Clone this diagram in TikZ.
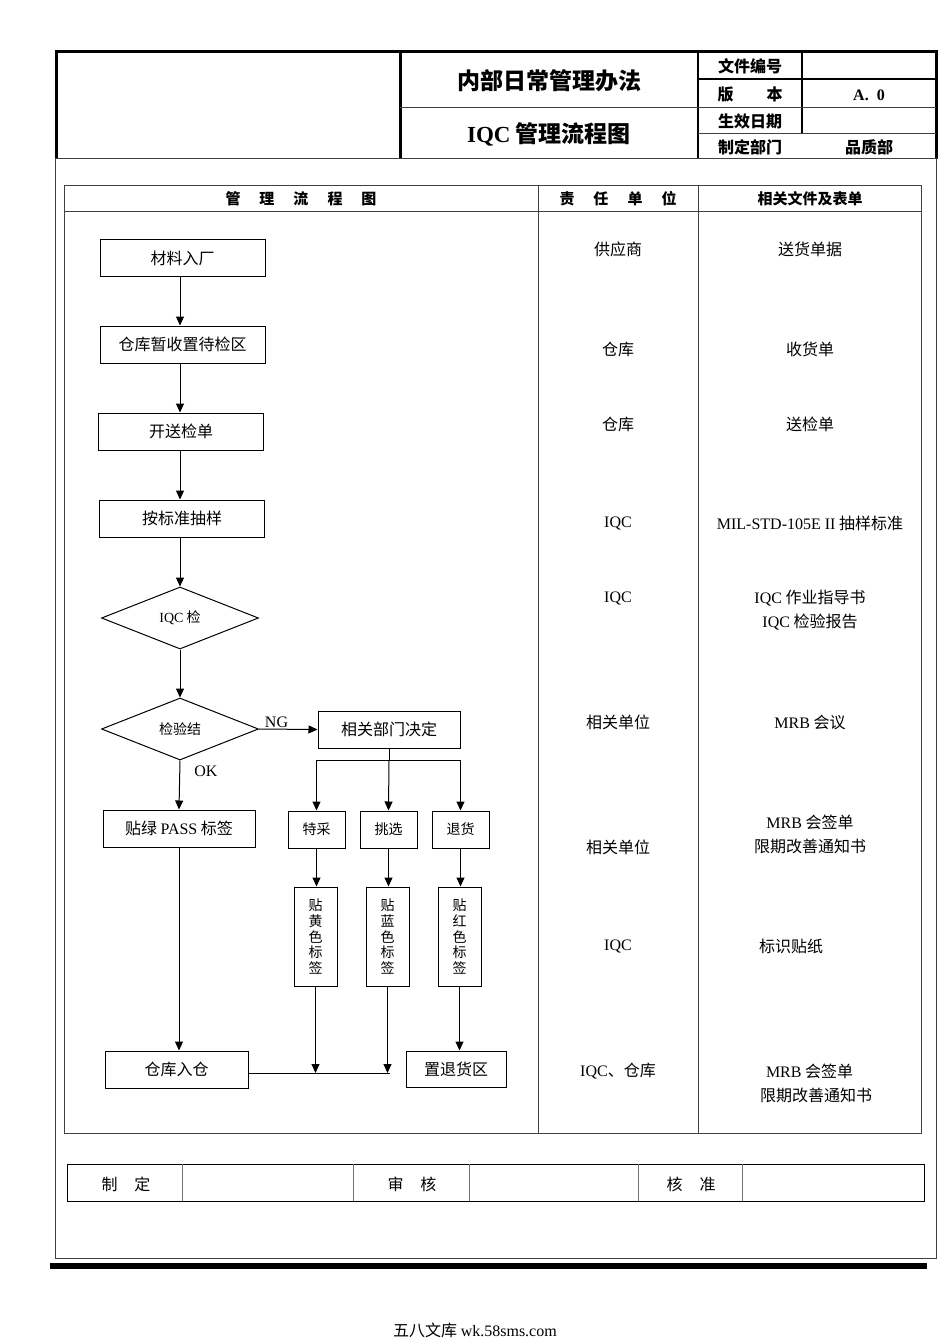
\documentclass[tikz,border=0pt]{standalone}
\usepackage{fontspec}
\setmainfont{Liberation Serif}
\newfontfamily\cjk{Noto Sans CJK SC}
\usetikzlibrary{arrows.meta, shapes.geometric}

\begin{document}
\begin{tikzpicture}[
  x = 1pt, y = -1pt,
  > = {Triangle[length=9pt, width=8pt]},
  zh/.style = {font=\cjk\fontsize{16}{24}\selectfont},
  zhsmall/.style = {font=\cjk\fontsize{14}{15.8}\selectfont},
  zhbold/.style = {font=\cjk\bfseries\fontsize{16}{20}\selectfont},
  box/.style = {draw, line width=1pt, minimum width=165pt, minimum height=37pt, inner sep=0pt, zh},
  smallbox/.style = {draw, line width=1pt, minimum width=57pt, minimum height=37pt, inner sep=0pt, zhsmall},
  tallbox/.style = {draw, line width=1pt, minimum width=43pt, minimum height=99pt, inner sep=0pt, align=center, zhsmall},
  decision/.style = {draw, diamond, line width=1pt, minimum width=157pt, minimum height=62pt, inner sep=0pt, zhsmall},
  cell/.style = {align=center, inner sep=0pt, zh},
  rule/.style = {line width=0.9pt, black!75},
  flow/.style = {->, line width=1pt}
]
  \useasboundingbox (0,0) rectangle (950,1344);

  % document header
  \draw[line width=3pt] (54.5,51) -- (937.5,51);
  \draw[line width=3pt] (56,50) -- (56,159);
  \draw[line width=3pt] (936,50) -- (936,159);
  \draw[line width=3pt] (400,50) -- (400,158);
  \draw[line width=2pt] (698,50) -- (698,158);
  \draw[line width=2.5pt] (802,50) -- (802,133);
  \draw[line width=2.5pt] (698,79) -- (936,79);
  \draw[rule] (400,107) -- (936,107);
  \draw[rule] (698,133) -- (936,133);
  \draw[rule] (55,158) -- (937,158);
  \node[font=\cjk\bfseries\fontsize{23}{26}\selectfont] (doctitle) at (549,81) {内部日常管理办法};
  \node[font=\cjk\bfseries\fontsize{23}{26}\selectfont] (chartitle) at (549,134) {{\rmfamily IQC} 管理流程图};
  \node[zhbold] (docno) at (750,66) {文件编号};
  \node[zhbold] (version) at (750,95) {版\hspace{33pt}本};
  \node[font=\bfseries\fontsize{16}{20}\selectfont] (versionval) at (869,95) {A.~~0};
  \node[zhbold] (effdate) at (750,121) {生效日期};
  \node[zhbold] (owner) at (750,147) {制定部门};
  \node[zhbold] (ownerval) at (869,147) {品质部};

  % page frame
  \draw[rule] (55,158) -- (55,1258) -- (936,1258) -- (936,158);
  \fill (50,1263) rectangle (927,1269);

  % main table
  \draw[rule] (64,185) rectangle (921,1133);
  \draw[rule] (64,211) -- (921,211);
  \draw[rule] (538,185) -- (538,1133);
  \draw[rule] (698,185) -- (698,1133);
  \node[zhbold, font=\cjk\bfseries\fontsize{15}{18}\selectfont] (colflow) at (301,199) {管\hspace{19pt}理\hspace{19pt}流\hspace{19pt}程\hspace{19pt}图};
  \node[zhbold, font=\cjk\bfseries\fontsize{15}{18}\selectfont] (colunit) at (618,199) {责\hspace{19pt}任\hspace{19pt}单\hspace{19pt}位};
  \node[zhbold, font=\cjk\bfseries\fontsize{15}{18}\selectfont] (coldoc) at (810,199) {相关文件及表单};

  % flow chart
  \node[box] (incoming) at (182.5,258) {材料入厂};
  \node[box] (hold) at (182.5,344.5) {仓库暂收置待检区};
  \node[box] (sendform) at (181,431.5) {开送检单};
  \node[box] (sample) at (182,518.5) {按标准抽样};
  \node[decision] (inspect) at (180,618) {{\rmfamily IQC} 检};
  \node[decision] (result) at (180,729) {检验结};
  \node[box, minimum width=142pt] (mrb) at (389,729.5) {相关部门决定};
  \node[box, minimum width=152pt] (pass) at (179,828.5) {贴绿 {\rmfamily PASS} 标签};
  \node[smallbox] (special) at (316.5,829.5) {特采};
  \node[smallbox] (sort) at (388.5,829.5) {挑选};
  \node[smallbox] (reject) at (460.5,829.5) {退货};
  \node[tallbox] (yellow) at (315.5,936.5) {贴\\黄\\色\\标\\签};
  \node[tallbox] (blue) at (387.5,936.5) {贴\\蓝\\色\\标\\签};
  \node[tallbox] (red) at (459.5,936.5) {贴\\红\\色\\标\\签};
  \node[box, minimum width=143pt] (store) at (176.5,1069.5) {仓库入仓};
  \node[box, minimum width=100pt, minimum height=36pt] (returnarea) at (456,1069) {置退货区};

  \draw[flow] (incoming.south -| result) -- (hold.north -| result);
  \draw[flow] (hold.south -| result) -- (sendform.north -| result);
  \draw[flow] (sendform.south -| result) -- (sample.north -| result);
  \draw[flow] (sample.south -| result) -- (inspect.north);
  \draw[flow] (inspect.south) -- (result.north);
  \draw[flow] (result.east) -- (mrb.west) node[pos=0.3, above, inner sep=1pt, font=\fontsize{16}{18}\selectfont] (ng) {NG};
  \draw[flow] (result.south) -- (pass.north);
  \node[font=\fontsize{16}{18}\selectfont] (ok) at (206,771) {OK};

  \coordinate (split) at (389,760);
  \draw[line width=1pt] (mrb.south) -- (split);
  \draw[line width=1pt] (special.north |- split) -- (reject.north |- split);
  \draw[flow] (split) -- (sort.north);
  \draw[flow] (special.north |- split) -- (special.north);
  \draw[flow] (reject.north |- split) -- (reject.north);

  \draw[flow] (special.south) -- (special.south |- yellow.north);
  \draw[flow] (sort.south) -- (sort.south |- blue.north);
  \draw[flow] (reject.south) -- (reject.south |- red.north);

  \coordinate (merge) at (390,1073);
  \draw[line width=1pt] (store.east |- merge) -- (merge);
  \draw[flow] (yellow.south) -- (yellow.south |- merge);
  \draw[flow] (blue.south) -- (blue.south |- merge);
  \draw[flow] (pass.south) -- (pass.south |- store.north);
  \draw[flow] (red.south) -- (red.south |- returnarea.north);

  % responsible units
  \node[cell] (unit1) at (618,249) {供应商};
  \node[cell] (unit2) at (618,349) {仓库};
  \node[cell] (unit3) at (618,424) {仓库};
  \node[cell] (unit4) at (618,523) {\rmfamily IQC};
  \node[cell] (unit5) at (618,598) {\rmfamily IQC};
  \node[cell] (unit6) at (618,722) {相关单位};
  \node[cell] (unit7) at (618,847) {相关单位};
  \node[cell] (unit8) at (618,946) {\rmfamily IQC};
  \node[cell] (unit9) at (618,1071) {{\rmfamily IQC}、仓库};

  % related documents
  \node[cell] (doc1) at (810,249) {送货单据};
  \node[cell] (doc2) at (810,349) {收货单};
  \node[cell] (doc3) at (810,424) {送检单};
  \node[cell] (doc4) at (810,523) {{\rmfamily MIL-STD-105E II} 抽样标准};
  \node[cell] (doc5) at (810,610) {{\rmfamily IQC} 作业指导书\\{\rmfamily IQC} 检验报告};
  \node[cell] (doc6) at (810,722) {{\rmfamily MRB} 会议};
  \node[cell] (doc7) at (810,834.5) {{\rmfamily MRB} 会签单\\限期改善通知书};
  \node[cell] (doc8) at (791,946) {标识贴纸};
  \node[cell, align=left] (doc9) at (816,1083.5) {\hspace{6pt}{\rmfamily MRB} 会签单\\限期改善通知书};

  % sign-off table
  \draw[line width=1pt] (67,1164) rectangle (924,1201);
  \foreach \sx in {182,353,469,638,742}
    \draw[rule, black!55] (\sx,1164) -- (\sx,1201);
  \node[zh] (drafted) at (126,1184) {制\hspace{17pt}定};
  \node[zh] (reviewed) at (412,1184) {审\hspace{17pt}核};
  \node[zh] (approved) at (691,1184) {核\hspace{17pt}准};

  \node[zh] (source) at (475,1330) {五八文库 {\rmfamily wk.58sms.com}};
\end{tikzpicture}
\end{document}
